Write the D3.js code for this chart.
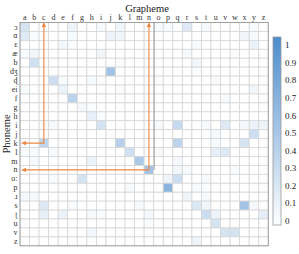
<!DOCTYPE html>
<html><head><meta charset="utf-8">
<script src="https://cdn.jsdelivr.net/npm/d3@7"></script>
<style>body{margin:0;background:#fff}svg{display:block}svg text{font-family:"Liberation Serif","DejaVu Serif",serif}</style>
</head><body><svg id="c" width="299" height="254"></svg>
<script>
const graphemes = "abcdefghijklmnopqrstuvwxyz".split("");
const phonemes = ["ɔ","ɑ","ɛ","æ","b","dʒ","ɖ","ei","f","g","h","i","j","k","l","m","n","oː","p","ɹ","s","ʈ","u","v","z"];
// non-zero cells per phoneme row: grapheme -> value
const rowɔ  = {a:.25,f:.1,i:.05,k:.08,o:.04,p:.04,r:.2,t:.06,y:.05};
const rowɑ  = {a:.2,b:.03,f:.04,j:.1,k:.08,x:.07,y:.05};
const rowɛ  = {e:.08,f:.03,s:.04,y:.12};
const rowæ  = {a:.04,b:.07,i:.08,r:.05,w:.03};
const rowB  = {b:.28,k:.03,s:.08};
const rowDʒ = {j:.55,s:.03};
const rowɖ  = {d:.3,e:.04,h:.04,i:.03,o:.03,u:.05};
const rowEi = {a:.04,e:.12,k:.03,y:.08};
const rowF  = {f:.4,v:.05};
const rowG  = {g:.06,h:.03};
const rowH  = {h:.14,i:.03};
const rowI  = {c:.04,d:.05,i:.25,o:.04,q:.35,t:.06,v:.2,x:.06,y:.12,z:.1};
const rowJ  = {j:.03,u:.05,y:.3};
const rowK  = {a:.03,c:.38,k:.42,q:.4,u:.05,x:.25};
const rowL  = {a:.05,b:.04,d:.05,l:.28,o:.05,u:.15,v:.2};
const rowM  = {b:.06,h:.12,m:.5,q:.06};
const rowN  = {n:.55,q:.07,r:.05,w:.04};
const rowOː = {d:.04,g:.25,p:.1,q:.3,t:.04};
const rowP  = {l:.05,p:.68,s:.04,t:.03};
const rowɹ  = {a:.06,b:.06,r:.1,t:.05};
const rowS  = {c:.2,f:.04,m:.05,s:.22,t:.08,x:.55,y:.06};
const rowʈ  = {c:.15,e:.12,h:.05,i:.04,n:.06,t:.32,u:.1,z:.15};
const rowU  = {a:.03,n:.03,u:.25};
const rowV  = {h:.07,v:.25,w:.25};
const rowZ  = {h:.02,s:.1};
const rows = [rowɔ,rowɑ,rowɛ,rowæ,rowB,rowDʒ,rowɖ,rowEi,rowF,rowG,rowH,rowI,rowJ,rowK,rowL,rowM,rowN,rowOː,rowP,rowɹ,rowS,rowʈ,rowU,rowV,rowZ];
const cbTicks = [0,0.1,0.2,0.3,0.4,0.5,0.6,0.7,0.8,0.9,1];
// highlighted cells (phoneme, grapheme) with orange guides
const highlights = [["k","c"],["n","n"]];

const FONT = "Liberation Serif, DejaVu Serif, serif";
const svg = d3.select("#c");
const x = d3.scaleBand().domain(graphemes).range([20, 268.3]);
const y = d3.scaleBand().domain(phonemes).range([22.5, 245.8]);
const color = d3.scaleLinear().domain([0,1]).range(["#ffffff","#5592cf"]).interpolate(d3.interpolateRgb);

const cells = [];
phonemes.forEach((p,i)=>graphemes.forEach(g=>cells.push({p,g,v:rows[i][g]||0})));

svg.append("g").selectAll("rect").data(cells).join("rect")
  .attr("x",d=>x(d.g)).attr("y",d=>y(d.p))
  .attr("width",x.bandwidth()).attr("height",y.bandwidth())
  .attr("fill",d=>color(d.v)).attr("stroke","#d6d6d6").attr("stroke-width",0.8);

svg.append("rect").attr("x",20).attr("y",22.5).attr("width",248.3).attr("height",223.3)
  .attr("fill","none").attr("stroke","#a0a0a0").attr("stroke-width",1);

const ax = svg.append("g").attr("transform","translate(0,21)").attr("font-family",FONT)
  .call(d3.axisTop(x).tickSize(0).tickPadding(1));
ax.select(".domain").remove();
ax.selectAll("text").attr("font-size",8).attr("fill","#333").attr("font-family",FONT);
const ay = svg.append("g").attr("transform","translate(18.5,0)").attr("font-family",FONT)
  .call(d3.axisLeft(y).tickSize(0).tickPadding(1));
ay.select(".domain").remove();
ay.selectAll("text").attr("font-size",8).attr("fill","#333").attr("font-family",FONT);

svg.append("text").attr("x",147).attr("y",12).attr("text-anchor","middle").attr("font-size",10.5).attr("font-family",FONT).attr("fill","#222").text("Grapheme");
svg.append("text").attr("transform","translate(10,134) rotate(-90)").attr("text-anchor","middle").attr("font-size",10.5).attr("font-family",FONT).attr("fill","#222").text("Phoneme");

// guides
const orange = "#ee8640";
svg.append("line").attr("x1",x("n")+x.bandwidth()+0.5).attr("x2",x("n")+x.bandwidth()+0.5)
  .attr("y1",22.5).attr("y2",y("n")+y.bandwidth()/2).attr("stroke","#8a8a8a").attr("stroke-width",0.8);
highlights.forEach(([p,g])=>{
  const cx = x(g)+x.bandwidth()/2, cy = y(p)+y.bandwidth()/2;
  svg.append("path").attr("d",`M${cx},26 V${cy} H25`).attr("fill","none").attr("stroke",orange).attr("stroke-width",1.1);
  svg.append("path").attr("d",`M${cx},22 l-2.2,5 h4.4 z`).attr("fill",orange);
  svg.append("path").attr("d",`M21,${cy} l5,-2.2 v4.4 z`).attr("fill",orange);
});

// colorbar
const cb = d3.scaleLinear().domain([-0.025,1.045]).range([225,37]);
const grad = svg.append("defs").append("linearGradient").attr("id","g").attr("x1",0).attr("x2",0).attr("y1",1).attr("y2",0);
grad.append("stop").attr("offset",0).attr("stop-color",color(-0.025));
grad.append("stop").attr("offset",1).attr("stop-color",color(1.045));
svg.append("rect").attr("x",273).attr("y",cb(1.045)).attr("width",8).attr("height",cb(-0.025)-cb(1.045))
  .attr("fill","url(#g)").attr("stroke","#999").attr("stroke-width",0.8);
const ac = svg.append("g").attr("transform","translate(282,0)").attr("font-family",FONT)
  .call(d3.axisRight(cb).tickValues(cbTicks).tickSize(0).tickPadding(3).tickFormat(d3.format("~g")));
ac.select(".domain").remove();
ac.selectAll("text").attr("font-size",9).attr("fill","#222").attr("font-family",FONT);
</script></body></html>
